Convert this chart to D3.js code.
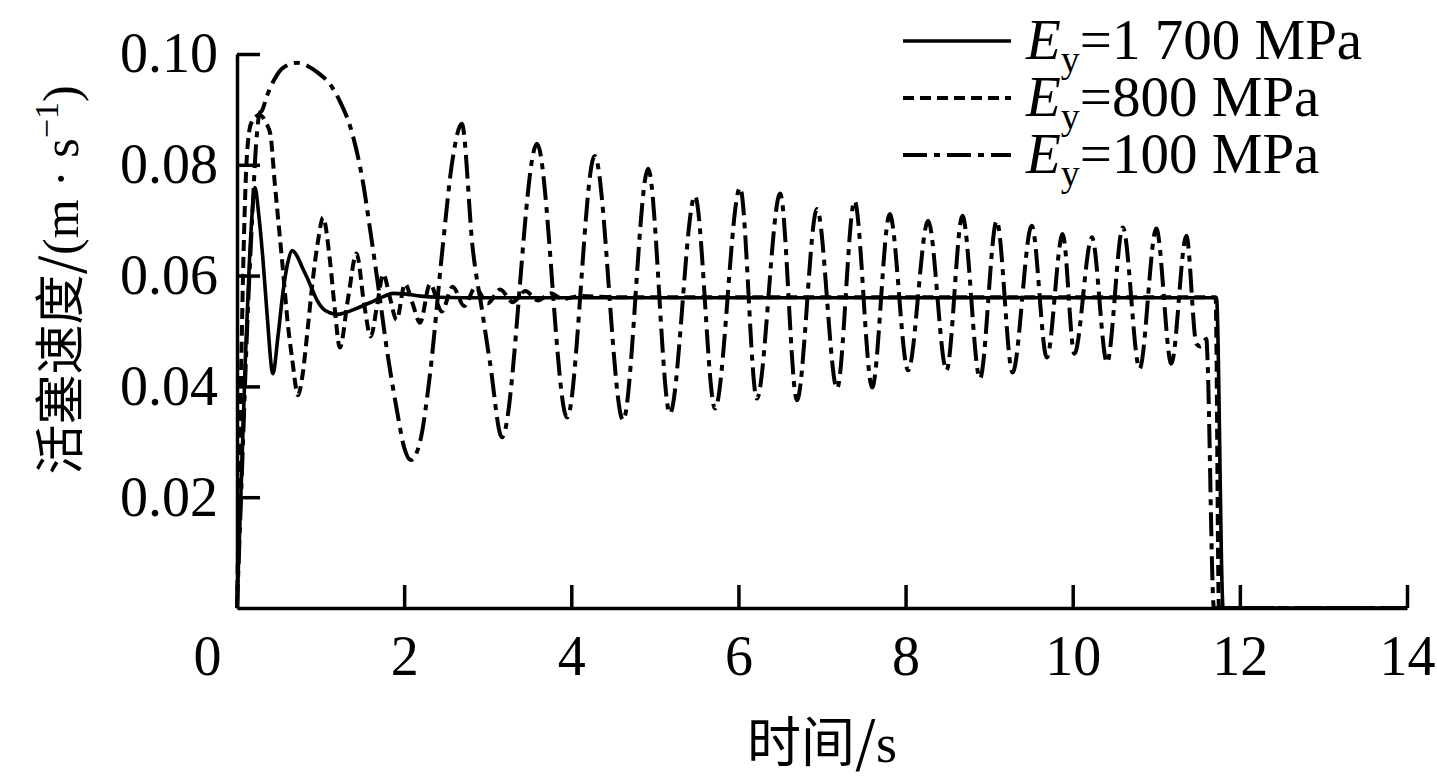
<!DOCTYPE html>
<html>
<head>
<meta charset="utf-8">
<script src="https://cdn.jsdelivr.net/npm/d3@7"></script>
<style>
  body { margin: 0; background: #fff; }
  svg { display: block; }
</style>
</head>
<body>
<script>
// tick labels
var xTicks = [0, 2, 4, 6, 8, 10, 12, 14];
var yTicks = [0.02, 0.04, 0.06, 0.08, 0.10];

// Ey = 1 700 MPa (solid)
var timeE1700 = [0, 0.05, 0.1, 0.15, 0.19, 0.215, 0.26, 0.31, 0.36, 0.43, 0.49, 0.55, 0.61, 0.66, 0.72, 0.78, 0.84, 0.9, 0.96, 1.03, 1.11, 1.2, 1.29, 1.45, 1.59, 1.75, 1.87, 2.0, 2.2, 2.4, 3.0, 11.72, 11.8, 14];
var speedE1700 = [0, 0.022, 0.045, 0.063, 0.073, 0.0759, 0.071, 0.063, 0.053, 0.0423, 0.049, 0.057, 0.0625, 0.0645, 0.0635, 0.0615, 0.0596, 0.0575, 0.0555, 0.054, 0.0533, 0.053, 0.0533, 0.0542, 0.0551, 0.0562, 0.0568, 0.0567, 0.0563, 0.0561, 0.056, 0.056, 0, 0];

// Ey = 800 MPa (short dash)
var timeE800 = [0, 0.04, 0.08, 0.12, 0.17, 0.27, 0.35, 0.4, 0.45, 0.5, 0.55, 0.61, 0.66, 0.73, 0.78, 0.85, 0.91, 0.97, 1.03, 1.11, 1.17, 1.23, 1.33, 1.43, 1.52, 1.6, 1.68, 1.75, 1.83, 1.91, 2.01, 2.1, 2.19, 2.31, 2.45, 2.58, 2.72, 2.85, 3.0, 3.15, 3.3, 3.45, 3.6, 3.75, 3.9, 4.1, 4.5, 11.71, 11.75, 14];
var speedE800 = [0, 0.035, 0.065, 0.082, 0.0875, 0.089, 0.0875, 0.0855, 0.077, 0.069, 0.061, 0.051, 0.045, 0.0384, 0.0416, 0.051, 0.0596, 0.0663, 0.0705, 0.063, 0.054, 0.047, 0.056, 0.064, 0.055, 0.049, 0.055, 0.0603, 0.056, 0.052, 0.0585, 0.055, 0.0515, 0.0585, 0.0535, 0.058, 0.0545, 0.0578, 0.055, 0.0575, 0.0552, 0.0572, 0.0555, 0.0568, 0.0558, 0.0563, 0.0561, 0.0561, 0, 0];

// Ey = 100 MPa (dash-dot)
var timeE100 = [0, 0.06, 0.12, 0.18, 0.23, 0.27, 0.3, 0.36, 0.45, 0.55, 0.72, 0.85, 0.97, 1.11, 1.23, 1.38, 1.51, 1.59, 1.7, 1.79, 1.91, 2.0, 2.08, 2.19, 2.31, 2.46, 2.58, 2.69, 2.82, 2.94, 3.03, 3.17, 3.59, 3.95, 4.28, 4.62, 4.92, 5.18, 5.48, 5.72, 6.02, 6.22, 6.5, 6.7, 6.94, 7.18, 7.39, 7.6, 7.81, 8.03, 8.27, 8.49, 8.68, 8.89, 9.09, 9.28, 9.51, 9.69, 9.88, 10.02, 10.23, 10.41, 10.6, 10.8, 11.0, 11.18, 11.36, 11.48, 11.53, 11.6, 11.61, 11.69, 14];
var speedE100 = [0, 0.025, 0.05, 0.07, 0.084, 0.0893, 0.0898, 0.0925, 0.0955, 0.0975, 0.0984, 0.0978, 0.0966, 0.0946, 0.0915, 0.0856, 0.0766, 0.0686, 0.057, 0.047, 0.036, 0.029, 0.0267, 0.03, 0.0423, 0.065, 0.081, 0.0874, 0.065, 0.053, 0.044, 0.0308, 0.0838, 0.0344, 0.0816, 0.0339, 0.0793, 0.0351, 0.0744, 0.036, 0.0759, 0.0378, 0.0748, 0.0375, 0.072, 0.0396, 0.0735, 0.0398, 0.0711, 0.0429, 0.0699, 0.0429, 0.0708, 0.0414, 0.0699, 0.0425, 0.069, 0.0452, 0.0675, 0.0459, 0.0669, 0.0443, 0.0687, 0.0432, 0.0685, 0.0441, 0.0672, 0.0477, 0.0472, 0.0486, 0.046, 0, 0];

var seriesLabels = ['=1 700 MPa', '=800 MPa', '=100 MPa'];

var width = 1437, height = 782;
var serif = '"Liberation Serif", "Times New Roman", serif';
var cjk = '"Noto Sans CJK SC", sans-serif';

var svg = d3.select('body').append('svg')
  .attr('width', width)
  .attr('height', height);

var x = d3.scaleLinear().domain([0, 14]).range([237, 1407]);
var y = d3.scaleLinear().domain([0, 0.1]).range([608, 54]);

var series = [
  { t: timeE1700, v: speedE1700, dash: null, w: 3.6 },
  { t: timeE800, v: speedE800, dash: '11,6', w: 4 },
  { t: timeE100, v: speedE100, dash: '24,7,6,7', w: 4 }
];

var line = d3.line()
  .x(d => x(d[0]))
  .y(d => y(d[1]))
  .curve(d3.curveMonotoneX);

// dashed ones first, solid on top
[series[2], series[1], series[0]].forEach(function (s) {
  svg.append('path')
    .datum(s.t.map((t, i) => [t, s.v[i]]))
    .attr('d', line)
    .attr('fill', 'none')
    .attr('stroke', '#000')
    .attr('stroke-width', s.w)
    .attr('stroke-dasharray', s.dash);
});

// axes
var xAxis = svg.append('g')
  .attr('transform', 'translate(0,' + y(0) + ')')
  .call(d3.axisBottom(x).tickValues(xTicks).tickSizeInner(-23).tickSizeOuter(0).tickPadding(27).tickFormat(d3.format('d')));

var yAxis = svg.append('g')
  .attr('transform', 'translate(' + x(0) + ',0)')
  .call(d3.axisLeft(y).tickValues(yTicks).tickSizeInner(-23).tickSizeOuter(0).tickPadding(19).tickFormat(d3.format('.2f')));

[xAxis, yAxis].forEach(function (g) {
  g.select('.domain').attr('stroke-width', 3.5);
  g.selectAll('.tick line').attr('stroke-width', 3.5);
  g.selectAll('.tick text')
    .attr('font-family', serif)
    .attr('font-size', 56)
    .attr('fill', '#000');
});
// the 0 label sits left of the origin
xAxis.selectAll('.tick').filter(d => d === 0).select('text').attr('x', -30);

// axis titles
svg.append('text')
  .attr('x', 822)
  .attr('y', 762)
  .attr('text-anchor', 'middle')
  .attr('font-size', 54)
  .call(function (t) {
    t.append('tspan').attr('font-family', cjk).text('时间/');
    t.append('tspan').attr('font-family', serif).text('s');
  });

svg.append('text')
  .attr('transform', 'translate(78,280) rotate(-90)')
  .attr('text-anchor', 'middle')
  .attr('font-size', 50)
  .call(function (t) {
    t.append('tspan').attr('font-family', cjk).text('活塞速度/');
    t.append('tspan').attr('font-family', serif).text('(m · s');
    t.append('tspan').attr('font-family', serif).attr('font-size', 34).attr('dy', -20).text('−1');
    t.append('tspan').attr('font-family', serif).attr('dy', 20).text(')');
  });

// legend
var legend = svg.append('g');
series.forEach(function (s, i) {
  var ly = 41 + i * 57;
  legend.append('line')
    .attr('x1', 903).attr('x2', 1011)
    .attr('y1', ly).attr('y2', ly)
    .attr('stroke', '#000')
    .attr('stroke-width', s.w)
    .attr('stroke-dasharray', s.dash);
  var txt = legend.append('text')
    .attr('x', 1026)
    .attr('y', ly + 18)
    .attr('font-family', serif)
    .attr('font-size', 57);
  txt.append('tspan').attr('font-style', 'italic').text('E');
  txt.append('tspan').attr('font-size', 38).attr('dy', 13).text('y');
  txt.append('tspan').attr('dy', -13).text(seriesLabels[i]);
});
</script>
</body>
</html>
